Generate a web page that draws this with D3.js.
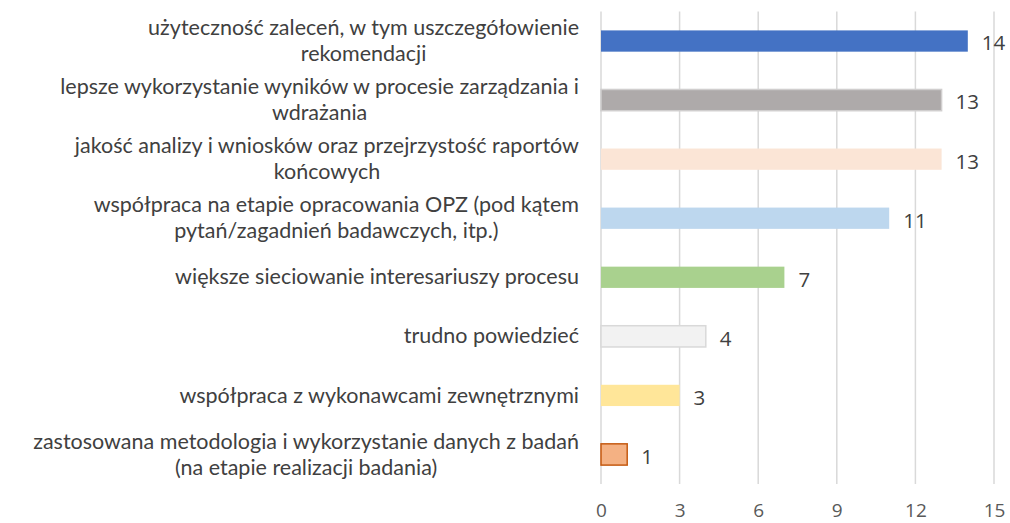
<!DOCTYPE html>
<html>
<head>
<meta charset="utf-8">
<script src="https://cdn.jsdelivr.net/npm/d3@7"></script>
<style>
  body { margin: 0; background: #fff; }
  svg { font-family: "Open Sans", Lato, sans-serif; }
</style>
</head>
<body>
<div id="chart"></div>
<script>
// categories, one array of lines per bar (top to bottom)
var categories = [
  ["użyteczność zaleceń, w tym uszczegółowienie", "rekomendacji"],
  ["lepsze wykorzystanie wyników w procesie zarządzania i", "wdrażania"],
  ["jakość analizy i wniosków oraz przejrzystość raportów", "końcowych"],
  ["współpraca na etapie opracowania OPZ (pod kątem", "pytań/zagadnień badawczych, itp.)"],
  ["większe sieciowanie interesariuszy procesu"],
  ["trudno powiedzieć"],
  ["współpraca z wykonawcami zewnętrznymi"],
  ["zastosowana metodologia i wykorzystanie danych z badań", "(na etapie realizacji badania)"]
];
var values = [14, 13, 13, 11, 7, 4, 3, 1];
var fills = ["#4472C4", "#AEAAAA", "#FBE5D6", "#BDD7EE", "#A9D18E", "#F2F2F2", "#FFE699", "#F4B183"];
var strokes = ["none", "#D0CECE", "none", "none", "none", "#D9D9D9", "none", "#C55A11"];
var xTicks = [0, 3, 6, 9, 12, 15];

var width = 1010, height = 523;
var plotLeft = 601, plotRight = 994, plotTop = 11.5, plotBottom = 484;

var svg = d3.select("#chart").append("svg")
  .attr("width", width).attr("height", height);

var x = d3.scaleLinear().domain([0, 15]).range([plotLeft, plotRight]);
var y = d3.scaleBand().domain(d3.range(values.length)).range([plotTop, plotBottom]).paddingInner(0.64).paddingOuter(0.32);

// gridlines
svg.append("g").selectAll("line")
  .data(xTicks).enter().append("line")
  .attr("x1", function(d) { return x(d); })
  .attr("x2", function(d) { return x(d); })
  .attr("y1", plotTop).attr("y2", plotBottom)
  .attr("stroke", "#D9D9D9").attr("stroke-width", 1.5);

// x axis labels
var xAxis = svg.append("g")
  .attr("transform", "translate(0," + plotBottom + ")")
  .call(d3.axisBottom(x).tickValues(xTicks).tickSize(0).tickPadding(20));
xAxis.select(".domain").remove();
xAxis.selectAll("text")
  .attr("fill", "#595959")
  .style("font-size", "19px")
  .style("font-family", "'Open Sans', sans-serif");

// bars
svg.append("g").selectAll("rect")
  .data(values).enter().append("rect")
  .attr("x", x(0))
  .attr("y", function(d, i) { return y(i); })
  .attr("width", function(d) { return x(d) - x(0); })
  .attr("height", y.bandwidth())
  .attr("fill", function(d, i) { return fills[i]; })
  .attr("stroke", function(d, i) { return strokes[i]; })
  .attr("stroke-width", 1.5);

// value labels
svg.append("g").selectAll("text")
  .data(values).enter().append("text")
  .attr("x", function(d) { return x(d) + 14; })
  .attr("y", function(d, i) { return y(i) + y.bandwidth() / 2 + 2; })
  .attr("dy", "0.36em")
  .attr("fill", "#404040")
  .style("font-size", "20.5px")
  .text(function(d) { return d; });

// category labels: centred block whose right edge sits at labelRight
var labelRight = 579;
var lineH = 26;
var labels = svg.append("g");
categories.forEach(function(lines, i) {
  var cy = y(i) + y.bandwidth() / 2;
  var t = labels.append("text")
    .attr("fill", "#404040")
    .style("font-size", "21.5px")
    .style("font-family", "Lato, sans-serif")
    .attr("text-anchor", "middle");
  lines.forEach(function(s, k) {
    t.append("tspan")
      .attr("y", cy + (k - (lines.length - 1) / 2) * lineH)
      .attr("dy", "0.33em")
      .text(s);
  });
  var w = 0;
  t.selectAll("tspan").each(function() { w = Math.max(w, this.getComputedTextLength()); });
  t.selectAll("tspan").attr("x", labelRight - w / 2);
});
</script>
</body>
</html>
